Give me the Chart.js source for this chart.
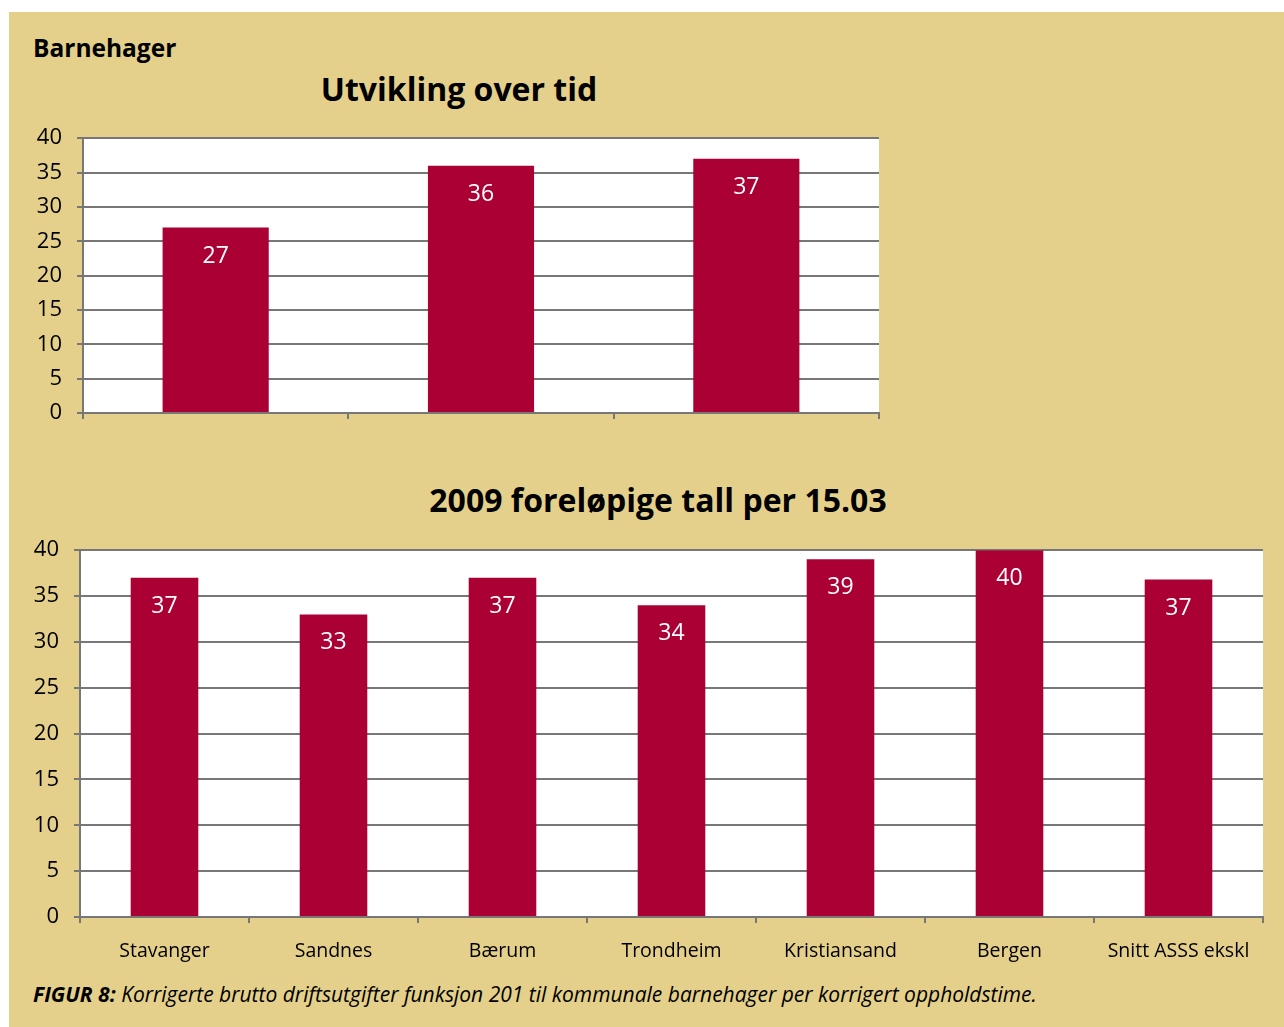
<!DOCTYPE html>
<html>
<head>
<meta charset="utf-8">
<script src="https://cdn.jsdelivr.net/npm/chart.js@4/dist/chart.umd.min.js"></script>
<style>
  html, body { margin: 0; padding: 0; background: #ffffff; width: 1284px; height: 1027px; overflow: hidden; }
  #panel { position: absolute; left: 9px; top: 12px; width: 1275px; height: 1015px; background: #E4D08A; }
  .txt { position: absolute; font-family: "Open Sans", sans-serif; color: #000; white-space: nowrap; line-height: normal; }
  #c1wrap { position: absolute; left: 0; top: 110px; width: 900px; height: 333px; }
  #c2wrap { position: absolute; left: 0; top: 522px; width: 1284px; height: 458px; }
</style>
</head>
<body>
<div id="panel"></div>
<div class="txt" style="left:33px; top:31px; font-size:24.5px; font-weight:700;">Barnehager</div>
<div class="txt" id="t1" style="left:259px; width:400px; text-align:center; top:67px; font-size:32px; font-weight:700;">Utvikling over tid</div>
<div class="txt" id="t2" style="left:358px; width:600px; text-align:center; top:478px; font-size:32px; font-weight:700;">2009 foreløpige tall per 15.03</div>
<div class="txt" style="left:33px; top:980px; font-size:21px; font-style:italic;"><b>FIGUR 8:</b> Korrigerte brutto driftsutgifter funksjon 201 til kommunale barnehager per korrigert oppholdstime.</div>
<div id="c1wrap"><canvas id="c1"></canvas></div>
<div id="c2wrap"><canvas id="c2"></canvas></div>
<script>
// ---- Data ----
const trendCategories = ['', '', ''];
const trendValues = [27, 36, 37];
const cityCategories = ['Stavanger', 'Sandnes', 'Bærum', 'Trondheim', 'Kristiansand', 'Bergen', 'Snitt ASSS ekskl'];
const cityValues = [37, 33, 37, 34, 39, 40, 36.8];
const yTicksMin = 0, yTicksMax = 40, yTicksStep = 5;

const FONT = '"Open Sans", sans-serif';
const BAR = '#AB0034';
const GRID = '#777777';

const whiteArea = {
  id: 'whiteArea',
  beforeDraw(chart) {
    const { ctx, chartArea: a } = chart;
    ctx.save();
    ctx.fillStyle = '#ffffff';
    ctx.fillRect(a.left, a.top, a.right - a.left, a.bottom - a.top);
    ctx.restore();
  }
};

const valueLabels = {
  id: 'valueLabels',
  afterDatasetsDraw(chart) {
    const { ctx } = chart;
    const meta = chart.getDatasetMeta(0);
    const data = chart.data.datasets[0].data;
    ctx.save();
    ctx.fillStyle = '#ffffff';
    ctx.font = '23px ' + FONT;
    ctx.textAlign = 'center';
    ctx.textBaseline = 'middle';
    meta.data.forEach((bar, i) => {
      ctx.fillText(String(Math.round(data[i])), bar.x, bar.y + 28.5);
    });
    ctx.restore();
  }
};

function makeChart(id, labels, values, opts) {
  return new Chart(document.getElementById(id), {
    type: 'bar',
    data: {
      labels: labels,
      datasets: [{ data: values, backgroundColor: BAR, borderWidth: 0, categoryPercentage: 1, barPercentage: 0.4 }]
    },
    options: {
      responsive: true,
      maintainAspectRatio: false,
      animation: false,
      events: [],
      layout: { padding: { left: 0, right: opts.padRight, top: 0, bottom: 0 } },
      plugins: { legend: { display: false }, tooltip: { enabled: false }, title: { display: false } },
      scales: {
        x: {
          grid: { display: true, drawOnChartArea: false, drawTicks: true, tickLength: 6, offset: true, color: GRID, lineWidth: 2 },
          border: { display: true, color: GRID, width: 2 },
          ticks: { color: '#000', font: { family: FONT, size: 19.5 }, padding: 17, maxRotation: 0, autoSkip: false },
          afterFit(scale) { scale.height = opts.xHeight; }
        },
        y: {
          min: yTicksMin, max: yTicksMax,
          grid: { color: GRID, lineWidth: 2, drawTicks: true, tickLength: 6 },
          border: { display: true, color: GRID, width: 2 },
          ticks: { stepSize: yTicksStep, color: '#000', font: { family: FONT, size: 22 }, padding: 15 },
          afterFit(scale) { scale.width = opts.yWidth; }
        }
      }
    },
    plugins: [whiteArea, valueLabels]
  });
}

makeChart('c1', trendCategories, trendValues, { padRight: 21, xHeight: 30, yWidth: 83 });
makeChart('c2', cityCategories, cityValues, { padRight: 21, xHeight: 63, yWidth: 80 });
</script>
</body>
</html>
